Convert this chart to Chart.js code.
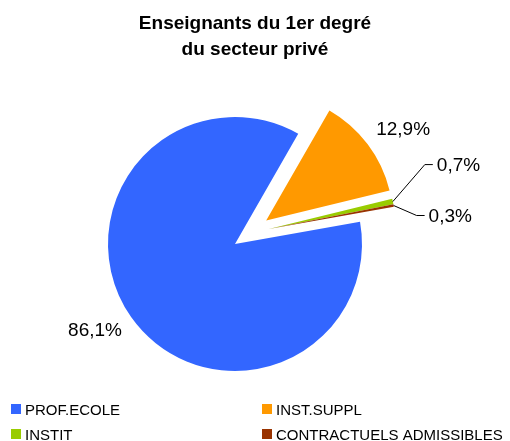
<!DOCTYPE html>
<html><head><meta charset="utf-8">
<script src="https://cdn.jsdelivr.net/npm/chart.js@4.4.1/dist/chart.umd.min.js"></script>
<style>html,body{margin:0;padding:0;background:#fff;}canvas{display:block;}</style>
</head><body>
<canvas id="c" width="510" height="441"></canvas>
<script>
// ---- data ----
const TITLE_LINES = ['Enseignants du 1er degré', 'du secteur privé'];
const CATEGORIES = ['PROF.ECOLE', 'INST.SUPPL', 'INSTIT', 'CONTRACTUELS ADMISSIBLES'];
const VALUES = [86.1, 12.9, 0.7, 0.3];
const COLORS = ['#3366FF', '#FF9900', '#99CC00', '#993300'];

// ---- styles ----
const FONT = '"Liberation Sans", Arial, Helvetica, sans-serif';
// explosion: distance in px, direction in degrees clockwise from top (null = slice bisector)
const EXPLODE = [null, {dist: 39, dir: null}, {dist: 37, dir: 66}, {dist: 37, dir: 66}];
const LABEL_STYLE = [
  {mode: 'outside', dist: 38, dx: -5, dy: -8},
  {mode: 'outside', dist: 38, dx: 5, dy: 8},
  {mode: 'leader', ex: 32, ey: -37, run: 8, gap: 4},
  {mode: 'leader', ex: 23, ey: 10, run: 8, gap: 4}
];

const fmt = v => v.toFixed(1).replace('.', ',') + '%';

const explodePlugin = {
  id: 'explode',
  afterDatasetsUpdate(chart) {
    const meta = chart.getDatasetMeta(0);
    meta.data.forEach((arc, i) => {
      const e = EXPLODE[i];
      if (!e) return;
      const a = e.dir === null ? (arc.startAngle + arc.endAngle) / 2 : (e.dir - 90) * Math.PI / 180;
      arc.x += Math.cos(a) * e.dist;
      arc.y += Math.sin(a) * e.dist;
    });
  }
};

const labelPlugin = {
  id: 'pctLabels',
  afterDatasetsDraw(chart) {
    const ctx = chart.ctx;
    const meta = chart.getDatasetMeta(0);
    ctx.save();
    ctx.font = '19px ' + FONT;
    ctx.fillStyle = '#000';
    ctx.strokeStyle = '#000';
    ctx.lineWidth = 1;
    ctx.textBaseline = 'middle';
    meta.data.forEach((arc, i) => {
      const s = LABEL_STYLE[i];
      const mid = (arc.startAngle + arc.endAngle) / 2;
      const r = arc.outerRadius;
      const text = fmt(VALUES[i]);
      if (s.mode === 'outside') {
        const x = arc.x + Math.cos(mid) * (r + s.dist) + s.dx;
        const y = arc.y + Math.sin(mid) * (r + s.dist) + s.dy;
        ctx.textAlign = 'center';
        ctx.fillText(text, x, y);
      } else {
        const x0 = arc.x + Math.cos(mid) * r;
        const y0 = arc.y + Math.sin(mid) * r;
        const x1 = x0 + s.ex, y1 = y0 + s.ey;
        const x2 = x1 + s.run;
        ctx.beginPath();
        ctx.moveTo(x0, y0);
        ctx.lineTo(x1, y1);
        ctx.lineTo(x2, y1);
        ctx.stroke();
        ctx.textAlign = 'left';
        ctx.fillText(text, x2 + s.gap, y1 + 1);
      }
    });
    ctx.restore();
  }
};

const framePlugin = {
  id: 'frame',
  afterDraw(chart) {
    const ctx = chart.ctx;
    ctx.save();
    ctx.fillStyle = '#000';
    ctx.textAlign = 'center';
    ctx.textBaseline = 'alphabetic';
    ctx.font = 'bold 19px ' + FONT;
    ctx.fillText(TITLE_LINES[0], 255, 28.5);
    ctx.fillText(TITLE_LINES[1], 255, 54.5);
    // legend, two columns
    ctx.font = '15px ' + FONT;
    ctx.textAlign = 'left';
    const colX = [11, 262];
    const rowY = [404, 429];
    CATEGORIES.forEach((c, i) => {
      const x = colX[i % 2], y = rowY[Math.floor(i / 2)];
      ctx.fillStyle = COLORS[i];
      ctx.fillRect(x, y, 10, 10);
      ctx.fillStyle = '#000';
      ctx.fillText(c, x + 14, y + 11.2);
    });
    ctx.restore();
  }
};

new Chart(document.getElementById('c'), {
  type: 'pie',
  data: {
    labels: CATEGORIES,
    datasets: [{
      data: VALUES,
      backgroundColor: COLORS,
      borderWidth: 0,
      hoverOffset: 0
    }]
  },
  options: {
    responsive: false,
    animation: false,
    rotation: 79.9,
    radius: 127,
    layout: {padding: {left: 0, right: 40, top: 100, bottom: 53}},
    events: [],
    plugins: {
      legend: {display: false},
      title: {display: false},
      tooltip: {enabled: false}
    }
  },
  plugins: [explodePlugin, labelPlugin, framePlugin]
});
</script>
</body></html>
